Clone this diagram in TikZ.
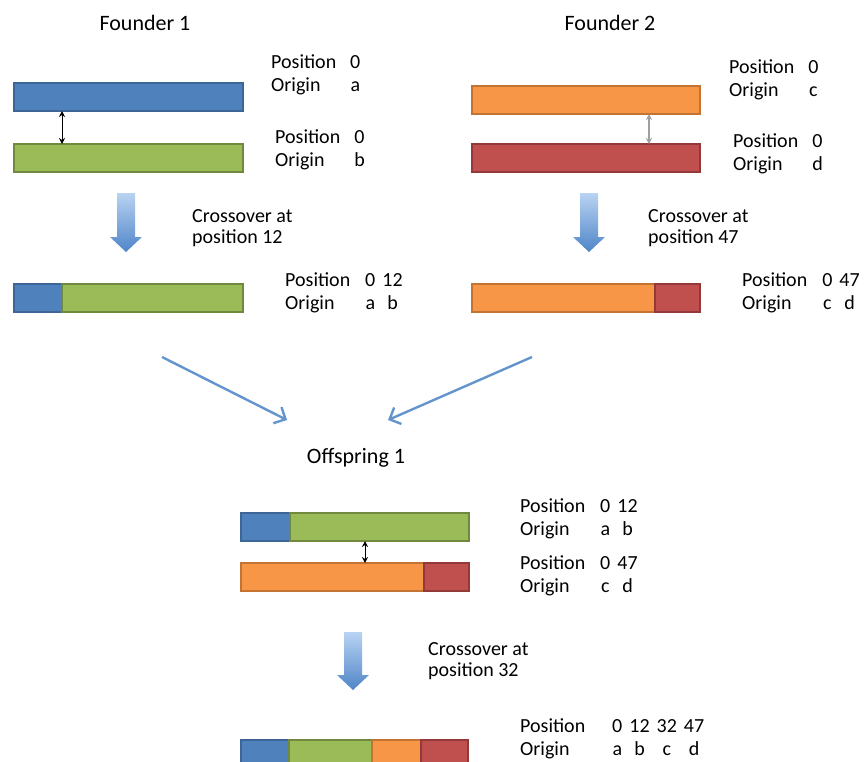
\documentclass[tikz,border=0pt]{standalone}
\usepackage{fontspec}
\setmainfont{Carlito}
\usepackage{xcolor}
\usetikzlibrary{arrows.meta,calc}

\definecolor{segblue}{HTML}{4F81BD}
\definecolor{segblueD}{HTML}{3D6696}
\definecolor{seggreen}{HTML}{9BBB59}
\definecolor{seggreenD}{HTML}{71893F}
\definecolor{segorange}{HTML}{F79646}
\definecolor{segorangeD}{HTML}{C47432}
\definecolor{segred}{HTML}{C0504D}
\definecolor{segredD}{HTML}{93393A}
\definecolor{flowblue}{HTML}{6494CC}
\definecolor{shadetop}{HTML}{B9D3F2}
\definecolor{shadebot}{HTML}{4F85C8}

\tikzset{
  seg/.style={draw, line width=1.5pt, anchor=north west, minimum height=28pt, inner sep=0pt, outer sep=0pt},
  bl/.style={seg, fill=segblue, draw=segblueD},
  gr/.style={seg, fill=seggreen, draw=seggreenD},
  or/.style={seg, fill=segorange, draw=segorangeD},
  rd/.style={seg, fill=segred, draw=segredD},
  title/.style={anchor=base, inner sep=0pt, font=\fontsize{22}{26}\selectfont},
  lbl/.style={anchor=base west, inner sep=0pt, font=\fontsize{20}{23}\selectfont},
  note/.style={anchor=base west, inner sep=0pt, align=left, font=\fontsize{20}{21}\selectfont},
  pair/.style={line width=1pt, {Stealth[length=6pt,width=6pt]}-{Stealth[length=6pt,width=6pt]}},
  merge/.style={flowblue, line width=2.4pt, -{Straight Barb[length=9pt,width=18pt]}},
  crossarrow/.pic={
    \shade[top color=shadetop, bottom color=shadebot, draw=none]
      (-9,0) -- (9,0) -- (9,#1-15) -- (16,#1-15) -- (0,#1) -- (-16,#1-15) -- (-9,#1-15) -- cycle;
  }
}

\begin{document}
\begin{tikzpicture}[x=1pt, y=-1pt]
  \useasboundingbox (0,0) rectangle (866,761);

  % founders
  \node[title] (fd1) at (145,30) {Founder 1};
  \node[title] (fd2) at (610,30) {Founder 2};

  \node[bl, minimum width=229pt] (f1a) at (14,83) {};
  \node[gr, minimum width=229pt] (f1b) at (14,144) {};
  \node[or, minimum width=228pt] (f2a) at (472,86) {};
  \node[rd, minimum width=228pt] (f2b) at (472,144) {};
  \draw[pair] ([xshift=48pt]f1a.south west) -- ([xshift=48pt]f1b.north west);
  \draw[pair, draw=gray!75, line width=1.3pt] ([xshift=177pt]f2a.south west) -- ([xshift=177pt]f2b.north west);

  \node[lbl] (l1a) at (271,68) {\begin{tabular}[t]{@{}l@{\hspace{14pt}}c@{}}Position & 0\\ Origin & a\end{tabular}};
  \node[lbl] (l1b) at (275,143) {\begin{tabular}[t]{@{}l@{\hspace{14pt}}c@{}}Position & 0\\ Origin & b\end{tabular}};
  \node[lbl] (l2a) at (729,73) {\begin{tabular}[t]{@{}l@{\hspace{14pt}}c@{}}Position & 0\\ Origin & c\end{tabular}};
  \node[lbl] (l2b) at (733,147) {\begin{tabular}[t]{@{}l@{\hspace{14pt}}c@{}}Position & 0\\ Origin & d\end{tabular}};

  % first crossovers
  \pic at (126,193) {crossarrow=59};
  \pic at (589,193) {crossarrow=59};
  \node[note] (c1) at (192,243) {Crossover at\\position 12};
  \node[note] (c2) at (648,243) {Crossover at\\position 47};

  \node[bl, minimum width=48pt] (r1a) at (14,284) {};
  \node[gr, minimum width=181pt] (r1b) at (r1a.north east) {};
  \node[or, minimum width=183pt] (r2a) at (472,284) {};
  \node[rd, minimum width=45pt] (r2b) at (r2a.north east) {};

  \node[lbl] (l3) at (285,286) {\begin{tabular}[t]{@{}l@{\hspace{15pt}}c@{\hspace{7pt}}c@{}}Position & 0 & 12\\ Origin & a & b\end{tabular}};
  \node[lbl] (l4) at (742,286) {\begin{tabular}[t]{@{}l@{\hspace{15pt}}c@{\hspace{7pt}}c@{}}Position & 0 & 47\\ Origin & c & d\end{tabular}};

  % merge
  \coordinate (m1) at (162,357);
  \coordinate (m2) at (532,357);
  \coordinate (t1) at (287,420);
  \coordinate (t2) at (388,420);
  \draw[merge] (m1) -- (t1);
  \draw[merge] (m2) -- (t2);

  \node[title] (off) at (356,463) {Offspring 1};

  \node[bl, minimum width=49pt] (o1a) at (241,513) {};
  \node[gr, minimum width=179pt] (o1b) at (o1a.north east) {};
  \node[or, minimum width=183pt] (o2a) at (241,563) {};
  \node[rd, minimum width=45pt] (o2b) at (o2a.north east) {};
  \draw[pair] ([xshift=124pt]o1a.south west) -- ([xshift=124pt]o2a.north west);

  \node[lbl] (l5) at (520,512) {\begin{tabular}[t]{@{}l@{\hspace{15pt}}c@{\hspace{7pt}}c@{}}Position & 0 & 12\\ Origin & a & b\end{tabular}};
  \node[lbl] (l6) at (520,569) {\begin{tabular}[t]{@{}l@{\hspace{15pt}}c@{\hspace{7pt}}c@{}}Position & 0 & 47\\ Origin & c & d\end{tabular}};

  % second crossover
  \pic at (353,632) {crossarrow=58};
  \node[note] (c3) at (428,676) {Crossover at\\position 32};

  \node[bl, minimum width=48pt] (p1) at (241,740) {};
  \node[gr, minimum width=83pt] (p2) at (p1.north east) {};
  \node[or, minimum width=49pt] (p3) at (p2.north east) {};
  \node[rd, minimum width=47pt] (p4) at (p3.north east) {};

  \node[lbl] (l7) at (520,732) {\begin{tabular}[t]{@{}l@{\hspace{27pt}}c@{\hspace{7pt}}c@{\hspace{7pt}}c@{\hspace{7pt}}c@{}}Position & 0 & 12 & 32 & 47\\ Origin & a & b & c & d\end{tabular}};
\end{tikzpicture}
\end{document}
